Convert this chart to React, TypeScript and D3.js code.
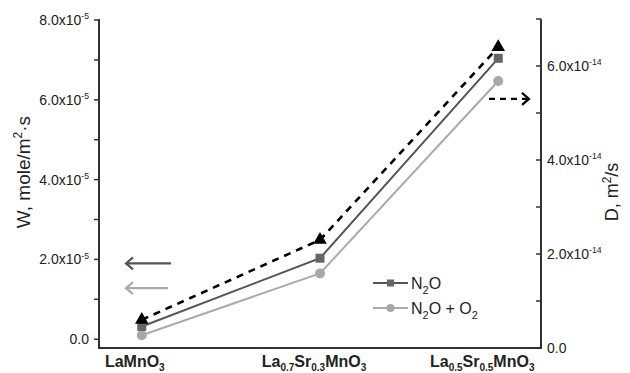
import { useEffect, useRef } from 'react';
import * as d3 from 'd3';

// composition labels, "_" marks a subscript run
const categories = ['LaMnO_3', 'La_0.7Sr_0.3MnO_3', 'La_0.5Sr_0.5MnO_3'];
const catShift = [-7, -6, -16];

// W, mole/m2·s (left axis)
const wN2O = [0.32e-5, 2.03e-5, 7.04e-5];
const wN2OO2 = [0.1e-5, 1.65e-5, 6.47e-5];
// D, m2/s (right axis)
const dValues = [0.6e-14, 2.3e-14, 6.4e-14];

const wTicks = [0, 1, 2, 3, 4, 5, 6, 7, 8];
const dTicks = [0, 1, 2, 3, 4, 5, 6, 7];

const font = '"Liberation Sans", Arial, sans-serif';
const ink = '#222';

type Part = { t: string; sub: boolean };
function splitSub(label: string): Part[] {
  const out: Part[] = [];
  const re = /_([0-9.]+)|([^_]+?)(?=_|$)/g;
  let m: RegExpExecArray | null;
  while ((m = re.exec(label))) {
    if (m[1]) out.push({ t: m[1], sub: true });
    else if (m[2]) out.push({ t: m[2], sub: false });
  }
  return out;
}

function sciLabel(sel: d3.Selection<SVGTextElement, unknown, null, undefined>, mant: string, exp: string, size: number) {
  sel.append('tspan').text(mant + 'x10');
  sel.append('tspan').attr('font-size', size * 0.62).attr('dy', -size * 0.42).text(exp);
}

export default function App() {
  const ref = useRef<SVGSVGElement>(null);

  useEffect(() => {
    if (!ref.current) return;
    const W = 630, H = 373;
    const left = 99, right = 541, top = 19, bottom = 348;

    const svg = d3.select(ref.current);
    svg.selectAll('*').remove();
    svg.attr('width', W).attr('height', H);

    const x = d3.scalePoint<number>().domain([0, 1, 2]).range([left, right]).padding(0.24);
    const yW = d3.scaleLinear().domain([-0.22e-5, 8e-5]).range([bottom, top + 1]);
    const yD = d3.scaleLinear().domain([0, 7e-14]).range([bottom, top]);

    // axes frame
    const axisCol = '#333';
    svg.append('path')
      .attr('d', `M${left},${top}V${bottom}H${right}V${top}`)
      .attr('fill', 'none').attr('stroke', axisCol).attr('stroke-width', 2);

    // left ticks
    const lg = svg.append('g');
    wTicks.forEach((t) => {
      const y = yW(t * 1e-5);
      lg.append('line').attr('x1', left - 5).attr('x2', left).attr('y1', y).attr('y2', y)
        .attr('stroke', axisCol).attr('stroke-width', 1.5);
      if (t % 2 === 0) {
        const txt = lg.append('text').attr('x', left - 10).attr('y', y + 5)
          .attr('text-anchor', 'end').attr('font-size', 14).attr('fill', ink).attr('font-family', font);
        if (t === 0) txt.text('0.0');
        else sciLabel(txt, t.toFixed(1), '-5', 14);
      }
    });

    // right ticks (inside)
    const rg = svg.append('g');
    dTicks.forEach((t) => {
      const y = yD(t * 1e-14);
      rg.append('line').attr('x1', right - 5).attr('x2', right).attr('y1', y).attr('y2', y)
        .attr('stroke', axisCol).attr('stroke-width', 1.5);
      if (t % 2 === 0) {
        const txt = rg.append('text').attr('x', right + 6).attr('y', y + 5)
          .attr('font-size', 14).attr('fill', ink).attr('font-family', font);
        if (t === 0) txt.text('0.0');
        else sciLabel(txt, t.toFixed(1), '-14', 14);
      }
    });

    // category labels
    categories.forEach((c, i) => {
      const txt = svg.append('text').attr('x', x(i)! + catShift[i]).attr('y', 367)
        .attr('text-anchor', 'middle').attr('font-size', 16).attr('font-weight', 700)
        .attr('fill', ink).attr('font-family', font);
      let down = false;
      splitSub(c).forEach((p) => {
        const ts = txt.append('tspan').text(p.t);
        if (p.sub && !down) { ts.attr('font-size', 10).attr('dy', 4); down = true; }
        else if (!p.sub && down) { ts.attr('dy', -4); down = false; }
        else if (p.sub) ts.attr('font-size', 10);
      });
    });

    // axis titles
    const wt = svg.append('text').attr('transform', `translate(30,172) rotate(-90)`)
      .attr('text-anchor', 'middle').attr('font-size', 19).attr('fill', ink).attr('font-family', font);
    wt.append('tspan').text('W, mole/m');
    wt.append('tspan').attr('font-size', 12).attr('dy', -8).text('2');
    wt.append('tspan').attr('dy', 8).text('·s');

    const dt = svg.append('text').attr('transform', `translate(618,192) rotate(-90)`)
      .attr('text-anchor', 'middle').attr('font-size', 18).attr('fill', ink).attr('font-family', font);
    dt.append('tspan').text('D, m');
    dt.append('tspan').attr('font-size', 12).attr('dy', -7).text('2');
    dt.append('tspan').attr('dy', 7).text('/s');

    // lines
    const idx = [0, 1, 2];
    const lineW = (vals: number[]) => d3.line<number>().x((i) => x(i)!).y((i) => yW(vals[i]))(idx);
    svg.append('path').attr('d', lineW(wN2OO2)).attr('fill', 'none').attr('stroke', '#aaa').attr('stroke-width', 2);
    svg.append('path').attr('d', lineW(wN2O)).attr('fill', 'none').attr('stroke', '#555').attr('stroke-width', 2);
    const lineD = d3.line<number>().x((i) => x(i)!).y((i) => yD(dValues[i]));
    svg.append('path').attr('d', lineD(idx)).attr('fill', 'none').attr('stroke', '#000')
      .attr('stroke-width', 2.6).attr('stroke-dasharray', '7,6');

    // markers
    const tri = d3.symbol().type(d3.symbolTriangle).size(80);
    idx.forEach((i) => {
      svg.append('circle').attr('cx', x(i)!).attr('cy', yW(wN2OO2[i])).attr('r', 5).attr('fill', '#a8a8a8');
      svg.append('rect').attr('x', x(i)! - 4.5).attr('y', yW(wN2O[i]) - 4.5).attr('width', 9).attr('height', 9).attr('fill', '#666');
      svg.append('path').attr('d', tri).attr('transform', `translate(${x(i)},${yD(dValues[i])})`).attr('fill', '#000');
    });

    // axis hint arrows
    const arrow = (x1: number, x2: number, y: number, col: string, dir: number, dash?: string) => {
      svg.append('line').attr('x1', x1).attr('x2', x2).attr('y1', y).attr('y2', y)
        .attr('stroke', col).attr('stroke-width', 2.2).attr('stroke-dasharray', dash ?? null);
      const tip = dir < 0 ? x1 : x2;
      svg.append('path').attr('d', `M${tip - dir * 7},${y - 6}L${tip},${y}L${tip - dir * 7},${y + 6}`)
        .attr('fill', 'none').attr('stroke', col).attr('stroke-width', 2.2);
    };
    arrow(126, 171, yW(1.9e-5), '#555', -1);
    arrow(126, 168, yW(1.28e-5), '#aaa', -1);
    arrow(489, 529, yD(5.3e-14), '#000', 1, '6,5');

    // legend
    const legend = [
      { name: 'N_2O', col: '#555', mk: 'rect' },
      { name: 'N_2O + O_2', col: '#aaa', mk: 'circle' },
    ];
    legend.forEach((l, i) => {
      const y = 283 + i * 25;
      svg.append('line').attr('x1', 373).attr('x2', 408).attr('y1', y).attr('y2', y)
        .attr('stroke', l.col).attr('stroke-width', 2);
      if (l.mk === 'rect') svg.append('rect').attr('x', 387).attr('y', y - 3.5).attr('width', 7).attr('height', 7).attr('fill', '#666');
      else svg.append('circle').attr('cx', 390.5).attr('cy', y).attr('r', 4).attr('fill', '#a8a8a8');
      const txt = svg.append('text').attr('x', 411).attr('y', y + 6).attr('font-size', 16)
        .attr('fill', ink).attr('font-family', font);
      let down = false;
      splitSub(l.name).forEach((p) => {
        const ts = txt.append('tspan').text(p.t);
        if (p.sub) { ts.attr('font-size', 11).attr('dy', 5); down = true; }
        else if (down) { ts.attr('dy', -5); down = false; }
      });
    });
  }, []);

  return <svg ref={ref} style={{ position: 'absolute', left: 0, top: 0, background: '#fff' }} />;
}
